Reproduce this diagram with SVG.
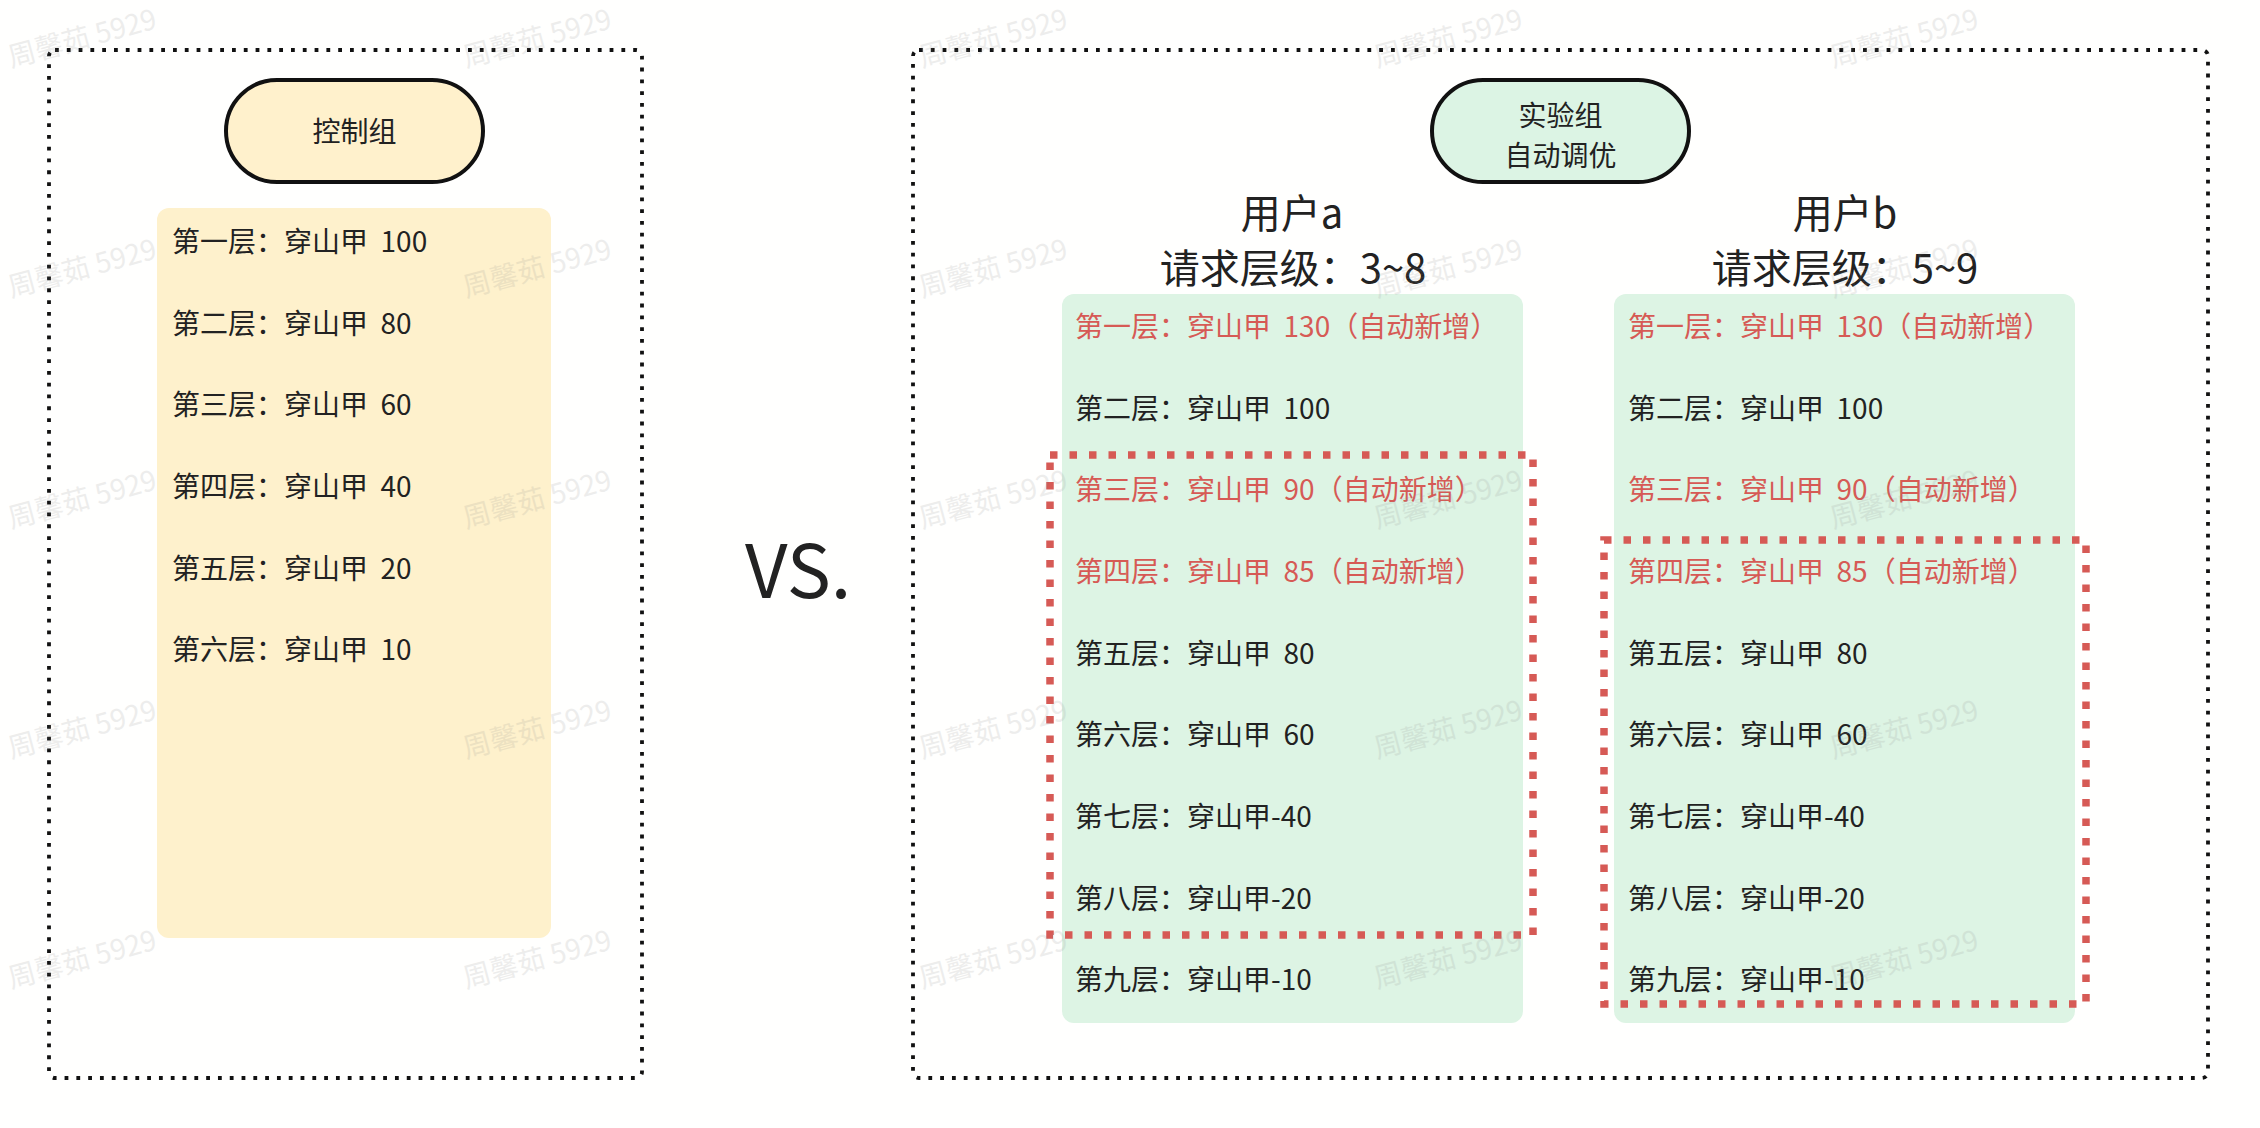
<svg xmlns="http://www.w3.org/2000/svg" width="2260" height="1128" viewBox="0 0 2260 1128" xml:space="preserve">
<style>
.t{font-family:"Noto Sans CJK SC","Noto Sans",sans-serif;font-size:28px;fill:#222;white-space:pre}
.r{fill:#D65A55}
.h{font-family:"Noto Sans CJK SC","Noto Sans",sans-serif;font-size:40px;fill:#222;text-anchor:middle}
.c{text-anchor:middle}
.outer{fill:none;stroke:#111;stroke-width:3.8;stroke-dasharray:3.8 8}
.pill{stroke:#111;stroke-width:4}
.hl{fill:none;stroke:#D65A55;stroke-width:7.5;stroke-dasharray:7.5 12}
.wm{font-family:"Noto Sans CJK SC","Noto Sans",sans-serif;font-size:28px;fill:#8a8a8a;opacity:0.15;text-anchor:middle}
</style>
<rect width="2260" height="1128" fill="#FFFFFE"/>

<g id="control-group">
  <rect class="outer" x="49" y="50" width="593" height="1028" rx="6"/>
  <g id="control-pill">
    <rect class="pill" x="226" y="80" width="257" height="102" rx="51" fill="#FFF1CC"/>
    <text class="t c" x="354.5" y="142">控制组</text>
  </g>
  <g id="control-list">
    <rect x="157" y="208" width="394" height="730" rx="12" fill="#FEF1CC"/>
    <text class="t" x="172" y="252">第一层：穿山甲  100</text>
    <text class="t" x="172" y="334">第二层：穿山甲  80</text>
    <text class="t" x="172" y="415">第三层：穿山甲  60</text>
    <text class="t" x="172" y="497">第四层：穿山甲  40</text>
    <text class="t" x="172" y="579">第五层：穿山甲  20</text>
    <text class="t" x="172" y="660">第六层：穿山甲  10</text>
  </g>
</g>

<g id="vs">
  <text x="745" y="598" style="font-family:'Noto Sans CJK SC','Noto Sans',sans-serif;font-size:74px;fill:#222">VS.</text>
</g>

<g id="experiment-group">
  <rect class="outer" x="913" y="50" width="1295" height="1028" rx="6"/>
  <g id="experiment-pill">
    <rect class="pill" x="1432" y="80" width="257" height="102" rx="51" fill="#DCF4E4"/>
    <text class="t c" x="1560.5" y="126">实验组</text>
    <text class="t c" x="1560.5" y="166">自动调优</text>
  </g>
  <g id="user-a">
    <text class="h" x="1292" y="228">用户a</text>
    <text class="h" x="1293" y="283">请求层级：3~8</text>
    <rect x="1062" y="294" width="461" height="729" rx="12" fill="#DDF4E4"/>
    <text class="t r" x="1075" y="337">第一层：穿山甲  130（自动新增）</text>
    <text class="t" x="1075" y="419">第二层：穿山甲  100</text>
    <text class="t r" x="1075" y="500">第三层：穿山甲  90（自动新增）</text>
    <text class="t r" x="1075" y="582">第四层：穿山甲  85（自动新增）</text>
    <text class="t" x="1075" y="664">第五层：穿山甲  80</text>
    <text class="t" x="1075" y="745">第六层：穿山甲  60</text>
    <text class="t" x="1075" y="827">第七层：穿山甲-40</text>
    <text class="t" x="1075" y="909">第八层：穿山甲-20</text>
    <text class="t" x="1075" y="990">第九层：穿山甲-10</text>
    <rect class="hl" x="1050" y="455" width="483" height="480"/>
  </g>
  <g id="user-b">
    <text class="h" x="1845" y="228">用户b</text>
    <text class="h" x="1845" y="283">请求层级：5~9</text>
    <rect x="1614" y="294" width="461" height="729" rx="12" fill="#DDF4E4"/>
    <text class="t r" x="1628" y="337">第一层：穿山甲  130（自动新增）</text>
    <text class="t" x="1628" y="419">第二层：穿山甲  100</text>
    <text class="t r" x="1628" y="500">第三层：穿山甲  90（自动新增）</text>
    <text class="t r" x="1628" y="582">第四层：穿山甲  85（自动新增）</text>
    <text class="t" x="1628" y="664">第五层：穿山甲  80</text>
    <text class="t" x="1628" y="745">第六层：穿山甲  60</text>
    <text class="t" x="1628" y="827">第七层：穿山甲-40</text>
    <text class="t" x="1628" y="909">第八层：穿山甲-20</text>
    <text class="t" x="1628" y="990">第九层：穿山甲-10</text>
    <rect class="hl" x="1604" y="540" width="482" height="464"/>
  </g>
</g>

<g id="connectors"></g>

<g id="watermarks">
  <text class="wm" transform="translate(82,38) rotate(-15)" y="10">周馨茹 5929</text>
  <text class="wm" transform="translate(537,38) rotate(-15)" y="10">周馨茹 5929</text>
  <text class="wm" transform="translate(993,38) rotate(-15)" y="10">周馨茹 5929</text>
  <text class="wm" transform="translate(1448,38) rotate(-15)" y="10">周馨茹 5929</text>
  <text class="wm" transform="translate(1904,38) rotate(-15)" y="10">周馨茹 5929</text>
  <text class="wm" transform="translate(82,268) rotate(-15)" y="10">周馨茹 5929</text>
  <text class="wm" transform="translate(537,268) rotate(-15)" y="10">周馨茹 5929</text>
  <text class="wm" transform="translate(993,268) rotate(-15)" y="10">周馨茹 5929</text>
  <text class="wm" transform="translate(1448,268) rotate(-15)" y="10">周馨茹 5929</text>
  <text class="wm" transform="translate(1904,268) rotate(-15)" y="10">周馨茹 5929</text>
  <text class="wm" transform="translate(82,499) rotate(-15)" y="10">周馨茹 5929</text>
  <text class="wm" transform="translate(537,499) rotate(-15)" y="10">周馨茹 5929</text>
  <text class="wm" transform="translate(993,499) rotate(-15)" y="10">周馨茹 5929</text>
  <text class="wm" transform="translate(1448,499) rotate(-15)" y="10">周馨茹 5929</text>
  <text class="wm" transform="translate(1904,499) rotate(-15)" y="10">周馨茹 5929</text>
  <text class="wm" transform="translate(82,729) rotate(-15)" y="10">周馨茹 5929</text>
  <text class="wm" transform="translate(537,729) rotate(-15)" y="10">周馨茹 5929</text>
  <text class="wm" transform="translate(993,729) rotate(-15)" y="10">周馨茹 5929</text>
  <text class="wm" transform="translate(1448,729) rotate(-15)" y="10">周馨茹 5929</text>
  <text class="wm" transform="translate(1904,729) rotate(-15)" y="10">周馨茹 5929</text>
  <text class="wm" transform="translate(82,959) rotate(-15)" y="10">周馨茹 5929</text>
  <text class="wm" transform="translate(537,959) rotate(-15)" y="10">周馨茹 5929</text>
  <text class="wm" transform="translate(993,959) rotate(-15)" y="10">周馨茹 5929</text>
  <text class="wm" transform="translate(1448,959) rotate(-15)" y="10">周馨茹 5929</text>
  <text class="wm" transform="translate(1904,959) rotate(-15)" y="10">周馨茹 5929</text>
</g>
</svg>
